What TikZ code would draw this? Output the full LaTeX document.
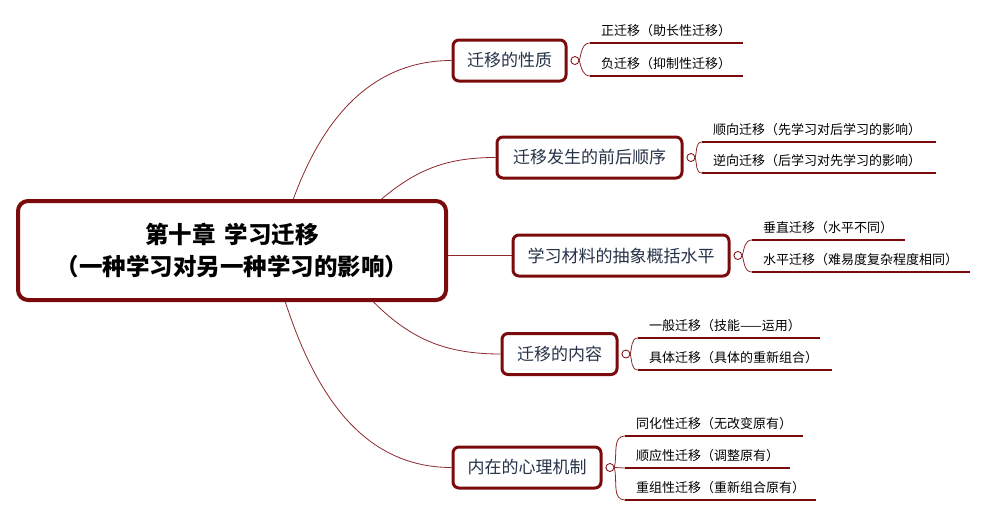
\documentclass[tikz,border=0pt]{standalone}
\usepackage{fontspec}
\setmainfont{Noto Sans CJK SC}
\usetikzlibrary{positioning}
\definecolor{mapred}{RGB}{122,10,12}
\definecolor{linkred}{RGB}{140,40,45}
\definecolor{topicblue}{RGB}{38,50,72}
\newcommand{\rootfont}{\fontsize{23.5}{32}\selectfont\bfseries}
\newcommand{\topicfont}{\fontsize{17}{20}\selectfont}
\newcommand{\leaffont}{\fontsize{13}{15}\selectfont}
\tikzset{
  rootbox/.style={draw=mapred, line width=4pt, rounded corners=10pt, fill=white,
    minimum width=428pt, minimum height=99pt, align=center, font=\rootfont},
  topic/.style={draw=mapred, line width=3pt, rounded corners=6pt, fill=white,
    minimum height=41pt, text=topicblue, font=\topicfont},
  knob/.style={circle, draw=mapred, line width=0.8pt, fill=white, minimum size=8pt, inner sep=0pt},
  leaf/.style={anchor=south west, inner xsep=11pt, inner ysep=7pt, text depth=0pt, font=\leaffont},
  ul/.style={draw=mapred, line width=2.5pt},
  link/.style={draw=linkred, line width=0.8pt},
}

\begin{document}
\begin{tikzpicture}[x=1pt, y=1pt]
    \useasboundingbox (0,0) rectangle (988,-517);
    % centre
    \node[rootbox] (root) at (232,-250.5) {第十章\hspace{0.4em}学习迁移\\（一种学习对另一种学习的影响）};
    % topics
    \node[topic, minimum width=113pt] (b1) at (509.5,-60.5) {迁移的性质};
    \node[topic, minimum width=185pt] (b2) at (589.5,-157.5) {迁移发生的前后顺序};
    \node[topic, minimum width=216pt] (b3) at (621,-255.5) {学习材料的抽象概括水平};
    \node[topic, minimum width=115pt] (b4) at (559.5,-354) {迁移的内容};
    \node[topic, minimum width=148pt] (b5) at (527,-467.5) {内在的心理机制};
    \draw[link] (root.40) to[out=70, in=180] (b1.west);
    \draw[link] (root.19) to[out=40, in=180] (b2.west);
    \draw[link] (root.east |- b3.west) -- (b3.west);
    \draw[link] (root.-20) to[out=-45, in=180] (b4.west);
    \draw[link] (root.-44) to[out=-72, in=180] (b5.west);
    % leaves
    \node[leaf] (l11) at (590,-43) {正迁移（助长性迁移）};
    \node[leaf] (l12) at (590,-76) {负迁移（抑制性迁移）};
    \node[leaf] (l21) at (702,-142) {顺向迁移（先学习对后学习的影响）};
    \node[leaf] (l22) at (702,-173) {逆向迁移（后学习对先学习的影响）};
    \node[leaf] (l31) at (752,-240) {垂直迁移（水平不同）};
    \node[leaf] (l32) at (752,-272) {水平迁移（难易度复杂程度相同）};
    \node[leaf] (l41) at (638,-338) {一般迁移（技能——运用）};
    \node[leaf] (l42) at (638,-370) {具体迁移（具体的重新组合）};
    \node[leaf] (l51) at (625,-436) {同化性迁移（无改变原有）};
    \node[leaf] (l52) at (625,-468) {顺应性迁移（调整原有）};
    \node[leaf] (l53) at (625,-500) {重组性迁移（重新组合原有）};
    \draw[ul] (l11.south west) -- ++(153,0);
    \draw[ul] (l12.south west) -- ++(153,0);
    \draw[ul] (l21.south west) -- ++(234,0);
    \draw[ul] (l22.south west) -- ++(234,0);
    \draw[ul] (l31.south west) -- ++(153,0);
    \draw[ul] (l32.south west) -- ++(218,0);
    \draw[ul] (l41.south west) -- ++(182,0);
    \draw[ul] (l42.south west) -- ++(194,0);
    \draw[ul] (l51.south west) -- ++(178,0);
    \draw[ul] (l52.south west) -- ++(165,0);
    \draw[ul] (l53.south west) -- ++(191,0);
    % knobs
    \node[knob, right=3pt of b1] (k1) {};
    \node[knob, right=3pt of b2] (k2) {};
    \node[knob, right=3pt of b3] (k3) {};
    \node[knob, right=3pt of b4] (k4) {};
    \node[knob, right=3pt of b5] (k5) {};
    \draw[link] (k1.east) to[out=75, in=180] (l11.south west);
    \draw[link] (k1.east) to[out=-75, in=180] (l12.south west);
    \draw[link] (k2.east) to[out=75, in=180] (l21.south west);
    \draw[link] (k2.east) to[out=-75, in=180] (l22.south west);
    \draw[link] (k3.east) to[out=75, in=180] (l31.south west);
    \draw[link] (k3.east) to[out=-75, in=180] (l32.south west);
    \draw[link] (k4.east) to[out=75, in=180] (l41.south west);
    \draw[link] (k4.east) to[out=-75, in=180] (l42.south west);
    \draw[link] (k5.east) to[out=75, in=180] (l51.south west);
    \draw[link] (k5.east) -- (l52.south west);
    \draw[link] (k5.east) to[out=-75, in=180] (l53.south west);
\end{tikzpicture}
\end{document}
